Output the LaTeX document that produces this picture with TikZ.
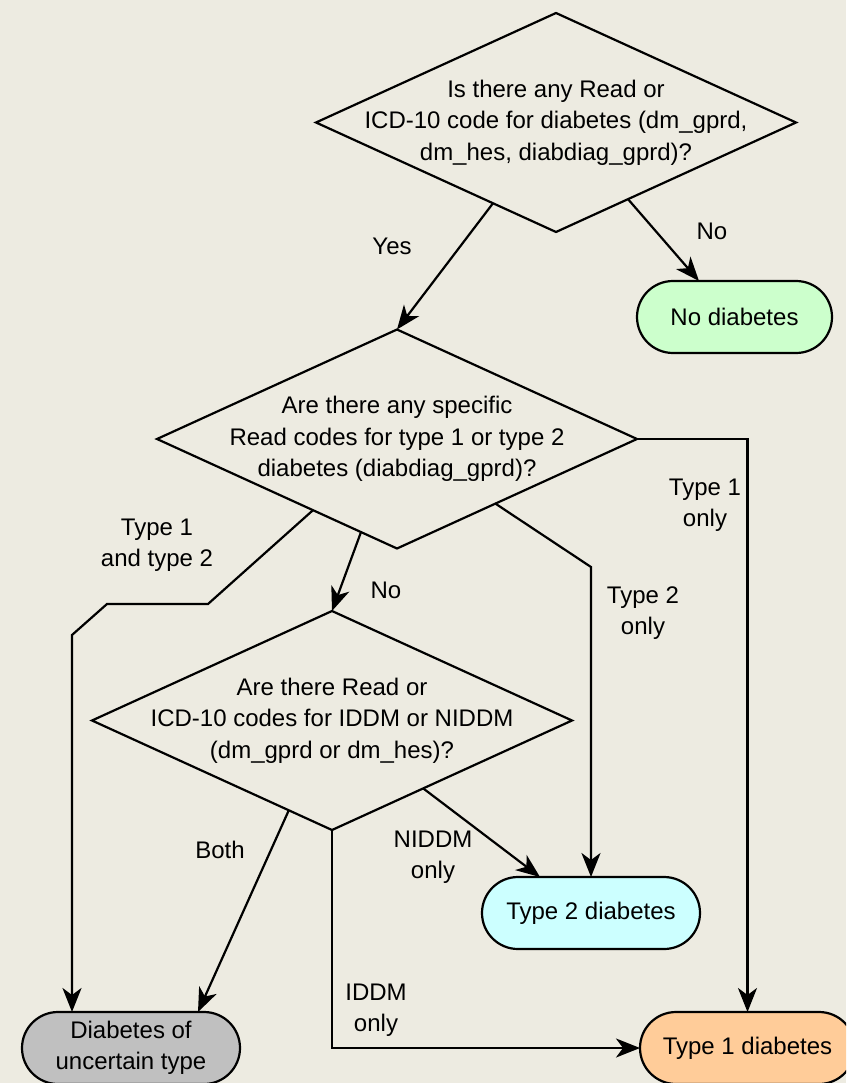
\documentclass[tikz,border=0pt]{standalone}
\usepackage{fontspec}
\setmainfont{Liberation Sans}
\usetikzlibrary{shapes.geometric,shapes.misc,arrows.meta,calc}

\definecolor{bg}{RGB}{237,235,225}
\definecolor{greenfill}{RGB}{204,255,204}
\definecolor{cyanfill}{RGB}{204,255,255}
\definecolor{orangefill}{RGB}{255,204,153}
\definecolor{grayfill}{RGB}{192,192,192}

\newcommand{\flowfont}{\fontsize{24}{31.5}\selectfont}

\begin{document}
\begin{tikzpicture}[x=1pt,y=-1pt,
  decision/.style={diamond, draw, line width=2.2pt, minimum width=480pt,
    minimum height=219pt, inner sep=0pt, outer sep=0pt},
  terminal/.style={rounded rectangle, draw, line width=2.2pt,
    minimum height=72pt, inner sep=0pt, outer sep=0pt, font=\flowfont},
  qtext/.style={align=center, font=\flowfont, inner sep=0pt},
  lbl/.style={align=center, font=\flowfont, inner sep=0pt},
  flow/.style={line width=2.2pt, line join=miter,
    -{Stealth[length=24pt,width=19pt,inset=7pt]}}]

\clip (0,0) rectangle (846,1083);
\fill[bg] (0,0) rectangle (846,1083);

% decisions
\node[decision] (d1) at (556,122.5) {};
\node[qtext] (d1t) at (d1.center) {Is there any Read or\\ICD-10 code for diabetes (dm\_gprd,\\dm\_hes, diabdiag\_gprd)?};
\node[decision] (d2) at (397,439) {};
\node[qtext] (d2t) at (d2.center) {Are there any specific\\Read codes for type 1 or type 2\\diabetes (diabdiag\_gprd)?};
\node[decision] (d3) at (332,720.5) {};
\node[qtext] (d3t) at (d3.center) {Are there Read or\\ICD-10 codes for IDDM or NIDDM\\(dm\_gprd or dm\_hes)?};

% outcomes
\node[terminal, fill=greenfill, minimum width=195pt] (nod) at (734.5,317) {No diabetes};
\node[terminal, fill=cyanfill, minimum width=218pt] (t2) at (591,913) {Type 2 diabetes};
\node[terminal, fill=grayfill, minimum width=218pt, align=center] (un) at (131,1048) {Diabetes of\\uncertain type};
\node[terminal, fill=orangefill, minimum width=215pt] (t1) at (747.5,1048) {Type 1 diabetes};

% exit points on the diamond edges
\coordinate (yes) at ($(d1.west)!0.7375!(d1.south)$);
\coordinate (no1) at ($(d1.east)!0.7!(d1.south)$);
\coordinate (both2) at ($(d2.west)!0.65!(d2.south)$);
\coordinate (no2) at ($(d2.west)!0.85!(d2.south)$);
\coordinate (only2) at ($(d2.east)!0.59!(d2.south)$);
\coordinate (both3) at ($(d3.west)!0.82!(d3.south)$);
\coordinate (niddm) at ($(d3.east)!0.62!(d3.south)$);
\coordinate (k2) at (591,567);

% connectors
\draw[flow] (yes) -- (d2.north);
\draw[flow] (no1) -- ($(nod.north)+(-35.5,0)$);
\draw[flow] (d2.east) -| (t1.north);
\draw[flow] (both2) -- (208,604) -- (107,604) -- (72,635) -- ($(un.north)+(-59,0)$);
\draw[flow] (no2) -- (d3.north);
\draw[flow] (only2) -- (k2) -- (t2.north);
\draw[flow] (both3) -- ($(un.north)+(67,0)$);
\draw[flow] (niddm) -- ($(t2.north)+(-51,0)$);
\draw[flow] (d3.south) |- (t1.west);

% branch labels
\node[lbl] (lyes) at (392,246) {Yes};
\node[lbl] (lno1) at (712,231) {No};
\node[lbl] (lt1) at (705,505) {Type 1\\only};
\node[lbl] (lt12) at (157,545) {Type 1\\and type 2};
\node[lbl] (lno2) at (386,590) {No};
\node[lbl] (lt2) at (643,613) {Type 2\\only};
\node[lbl] (lboth) at (220,850) {Both};
\node[lbl] (lniddm) at (433,857) {NIDDM\\only};
\node[lbl] (liddm) at (376,1010) {IDDM\\only};
\end{tikzpicture}
\end{document}
